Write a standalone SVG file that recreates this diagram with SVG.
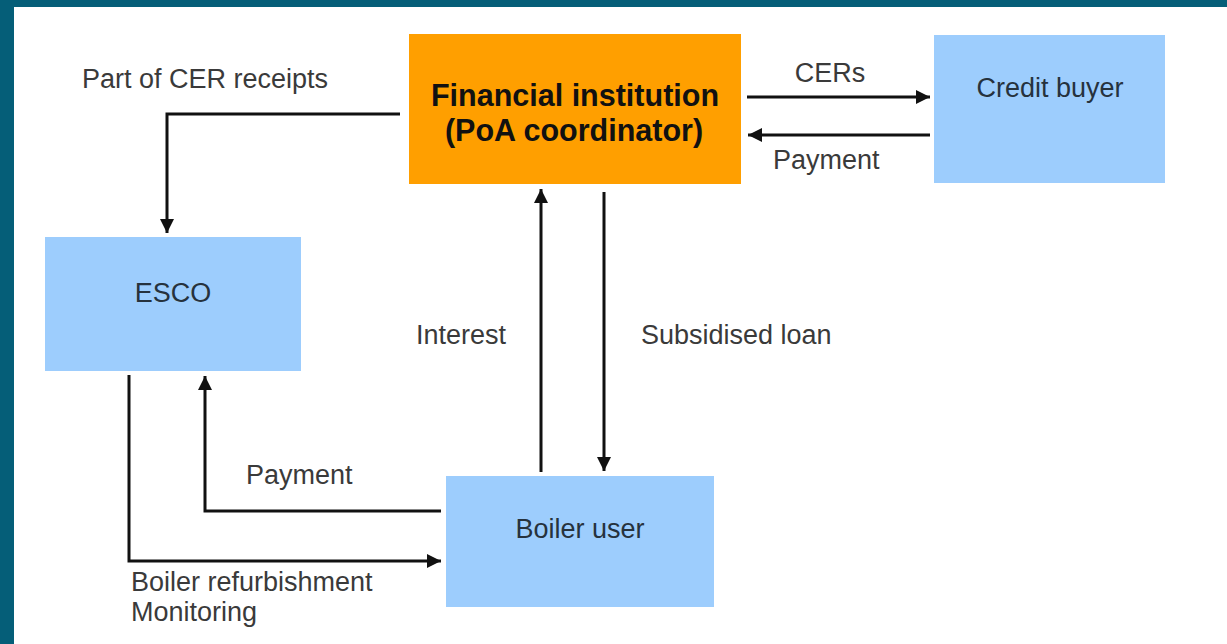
<svg xmlns="http://www.w3.org/2000/svg" width="1227" height="644" viewBox="0 0 1227 644">
<style>
.lbl{font-family:"Liberation Sans",Arial,sans-serif;font-size:27px;fill:#3a3a3a}
.nt{font-family:"Liberation Sans",Arial,sans-serif;font-size:27px;fill:#26323d;text-anchor:middle}
.bt{font-family:"Liberation Sans",Arial,sans-serif;font-size:30.5px;font-weight:bold;fill:#111;text-anchor:middle}
.blue{fill:#9dcdfd}
.conn path{fill:none;stroke:#111;stroke-width:3;marker-end:url(#ah)}
</style>
<defs>
<marker id="ah" markerUnits="userSpaceOnUse" markerWidth="16" markerHeight="16" refX="14" refY="7" orient="auto">
<path d="M0,0 L14,7 L0,14 z" fill="#111"/>
</marker>
</defs>
<rect x="0" y="0" width="1227" height="644" fill="#fff"/>
<rect x="0" y="0" width="1227" height="7" fill="#055e78"/>
<rect x="0" y="0" width="14" height="644" fill="#055e78"/>
<g id="financial">
<rect x="409" y="34" width="332" height="150" fill="#ff9f00"/>
<text class="bt" x="575" y="106">Financial institution</text>
<text class="bt" x="574" y="141">(PoA coordinator)</text>
</g>
<g id="credit-buyer">
<rect class="blue" x="934" y="35" width="231" height="148"/>
<text class="nt" x="1050" y="97">Credit buyer</text>
</g>
<g id="esco">
<rect class="blue" x="45" y="237" width="256" height="134"/>
<text class="nt" x="173" y="302">ESCO</text>
</g>
<g id="boiler-user">
<rect class="blue" x="446" y="476" width="268" height="131"/>
<text class="nt" x="580" y="538">Boiler user</text>
</g>
<g id="connectors" class="conn">
<path d="M747,97 H930"/>
<path d="M930,135 H748"/>
<path d="M400,114 H167 V233"/>
<path d="M541,472 V189"/>
<path d="M604,192 V471"/>
<path d="M441,511 H205 V376"/>
<path d="M129,375 V561 H441"/>
</g>
<g id="labels">
<text class="lbl" x="82" y="88">Part of CER receipts</text>
<text class="lbl" x="830" y="82" text-anchor="middle">CERs</text>
<text class="lbl" x="773" y="169">Payment</text>
<text class="lbl" x="416" y="344">Interest</text>
<text class="lbl" x="641" y="344">Subsidised loan</text>
<text class="lbl" x="246" y="484">Payment</text>
<text class="lbl" x="131" y="591">Boiler refurbishment</text>
<text class="lbl" x="131" y="621">Monitoring</text>
</g>
</svg>
